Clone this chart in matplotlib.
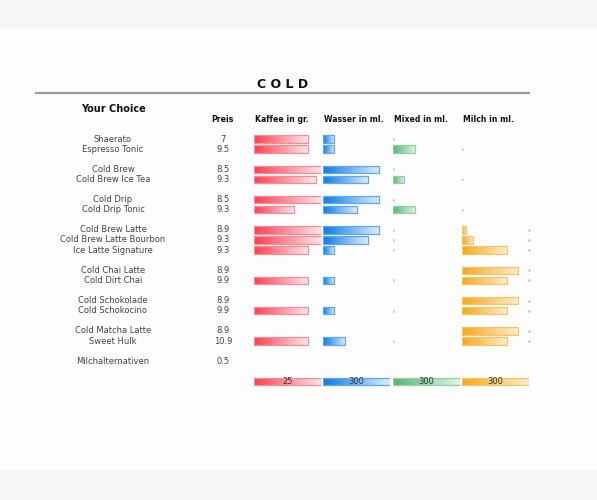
import numpy as np
import matplotlib
matplotlib.use("Agg")
import matplotlib.pyplot as plt
from matplotlib.colors import LinearSegmentedColormap
from matplotlib.patches import Rectangle

# --- data ---
drinks = ["Shaerato", "Espresso Tonic",
          "Cold Brew", "Cold Brew Ice Tea",
          "Cold Drip", "Cold Drip Tonic",
          "Cold Brew Latte", "Cold Brew Latte Bourbon", "Ice Latte Signature",
          "Cold Chai Latte", "Cold Dirt Chai",
          "Cold Schokolade", "Cold Schokocino",
          "Cold Matcha Latte", "Sweet Hulk",
          "Milchalternativen"]
groups = [0, 0, 1, 1, 2, 2, 3, 3, 3, 4, 4, 5, 5, 6, 6, 7]
prices = ["7", "9.5", "8.5", "9.3", "8.5", "9.3", "8.9", "9.3", "9.3",
          "8.9", "9.9", "8.9", "9.9", "8.9", "10.9", "0.5"]
kaffee = [20, 20, 25, 23, 25, 15, 25, 25, 20, 0, 20, 0, 20, 0, 20, 0]
wasser = [50, 50, 250, 200, 250, 150, 250, 200, 50, 0, 50, 0, 50, 0, 100, 0]
mixed = [0, 100, 0, 50, 0, 100, 0, 0, 0, 0, 0, 0, 0, 0, 0, 0]
milch = [0, 0, 0, 0, 0, 0, 20, 50, 200, 250, 200, 250, 200, 250, 200, 0]
col_names = ["Kaffee in gr.", "Wasser in ml.", "Mixed in ml.", "Milch in ml."]
col_max = [25, 300, 300, 300]
title = "C O L D"

# --- style ---
W, H, DPI = 597, 500, 100
col_left_px = [254, 323, 392.5, 462]
col_w_px = 67
row0_px, slot_px = 139, 10.1
bar_h = 0.72
grad = [("#ff3f52", "#fde6e9", "#f08f99"),
        ("#0f7ae3", "#dcecfb", "#5ea9ee"),
        ("#55b577", "#e3f3e8", "#93cfa4"),
        ("#f5a91c", "#fdecc8", "#f3c66c")]

fig = plt.figure(figsize=(W / DPI, H / DPI), dpi=DPI)
fig.patch.set_facecolor("#f6f6f6")

# page layer in pixel coords
bg = fig.add_axes([0, 0, 1, 1])
bg.set_xlim(0, W)
bg.set_ylim(H, 0)
bg.axis("off")
bg.add_patch(Rectangle((0, 28), W, 442, facecolor="#fdfdfd", edgecolor="none"))
bg.text(283, 85, title, ha="center", va="center", fontsize=9, fontweight="bold", color="#111")
bg.plot([35, 530], [93, 93], color="#9a9a9a", lw=1.6, solid_capstyle="butt")
bg.text(113, 108.5, "Your Choice", ha="center", va="center", fontsize=7, fontweight="bold", color="#111")
bg.text(222, 120, "Preis", ha="center", va="center", fontsize=5.6, fontweight="bold", color="#111")
for name, x in zip(col_names, col_left_px):
    bg.text(x + 1, 120, name, ha="left", va="center", fontsize=5.6, fontweight="bold", color="#111")

# row slots: one empty slot between groups, one before the totals row
slots = [i + g for i, g in enumerate(groups)]
total_slot = slots[-1] + 2
ylim = (25.5, -1.5)
top_px = row0_px + slot_px * ylim[1]
bot_px = row0_px + slot_px * ylim[0]
ax_bottom = 1 - bot_px / H
ax_height = (bot_px - top_px) / H

# text columns
for name, price, s in zip(drinks, prices, slots):
    y = row0_px + slot_px * s
    bg.text(113, y, name, ha="center", va="center", fontsize=6, color="#444")
    bg.text(223, y, price, ha="center", va="center", fontsize=6, color="#444")


def grad_bar(ax, y, v, c0, c1, edge, label=None):
    patch = ax.barh(y, v, height=bar_h, left=0, facecolor="none",
                    edgecolor=edge, linewidth=0.9, zorder=3)[0]
    cmap = LinearSegmentedColormap.from_list("g", [c0, c1])
    im = ax.imshow(np.linspace(0, 1, 64).reshape(1, -1), cmap=cmap, aspect="auto",
                   extent=[0, v, y + bar_h / 2, y - bar_h / 2], zorder=2,
                   interpolation="bilinear")
    im.set_clip_path(patch)
    if label is not None:
        ax.text(v / 2, y + 0.05, label, ha="center", va="center", fontsize=6, color="#333", zorder=4)


series = [kaffee, wasser, mixed, milch]
axes = []
for j in range(4):
    ax = fig.add_axes([col_left_px[j] / W, ax_bottom, col_w_px / W, ax_height])
    ax.set_xlim(0, col_max[j])
    ax.set_ylim(*ylim)
    ax.axis("off")
    ax.patch.set_alpha(0)
    axes.append(ax)

for j, vals in enumerate(series):
    ax = axes[j]
    c0, c1, edge = grad[j]
    for v, s in zip(vals, slots):
        if v > 0:
            grad_bar(ax, s, v, c0, c1, edge)
    grad_bar(ax, total_slot, col_max[j], c0, c1, edge, label=str(col_max[j]))

# faint dots where a filled column is followed by an empty one
for i, s in enumerate(slots):
    row = [series[j][i] for j in range(4)] + [0]
    for j in range(1, 5):
        if row[j - 1] > 0 and row[j] == 0:
            if j < 4:
                axes[j].plot(0, s, marker="o", ms=0.9, color="#c8c8c8", zorder=1)
            else:
                axes[3].plot(col_max[3], s, marker="o", ms=0.9, color="#c8c8c8", zorder=1,
                             clip_on=False)

fig.savefig("out.png", dpi=DPI, facecolor=fig.get_facecolor())
